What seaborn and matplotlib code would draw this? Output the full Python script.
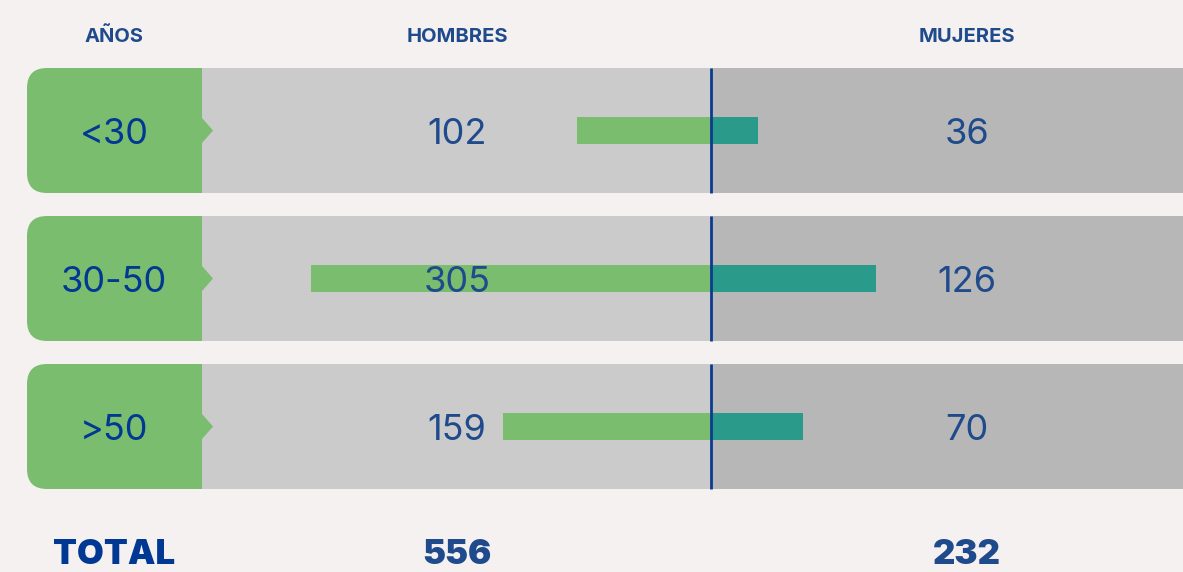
import matplotlib
matplotlib.use("Agg")
import matplotlib.pyplot as plt
import matplotlib.transforms as mtransforms
from matplotlib.patches import FancyBboxPatch, Rectangle, Polygon
import seaborn as sns
import pandas as pd

ages = ["<30", "30-50", ">50"]
hombres = [102, 305, 159]
mujeres = [36, 126, 70]
total_hombres = 556
total_mujeres = 232
headers = ["AÑOS", "HOMBRES", "MUJERES"]

BG = "#f5f1f0"
GREEN = "#7abd6f"
TEAL = "#2a9a8a"
LIGHT = "#cbcbcb"
DARK = "#b7b7b7"
NAVY = "#1f4a8c"
BLUE = "#003893"

sns.set_theme(style="white")
plt.rcParams["font.family"] = ["Inter", "DejaVu Sans"]

W, H = 1183, 572
fig = plt.figure(figsize=(W / 100, H / 100), dpi=100, facecolor=BG)

# background layer in pixel coordinates
bg = fig.add_axes([0, 0, 1, 1], zorder=0)
bg.set_xlim(0, W)
bg.set_ylim(H, 0)
bg.axis("off")
bg.set_facecolor(BG)

# value layer: x = people, y = row index
ax = fig.add_axes([0, 0, 1, 1], zorder=1)
ax.patch.set_visible(False)

x0, scale = 711, 1.31          # pixel of zero, pixels per person
y0, pitch = 130.5, 148          # pixel of first row centre, row pitch
half = 62.5                      # half band height

df = pd.DataFrame({"edad": ages, "hombres": [-v for v in hombres], "mujeres": mujeres})
sns.barplot(data=df, x="hombres", y="edad", orient="h", color=GREEN,
            width=27 / pitch, saturation=1, linewidth=0, ax=ax, zorder=3)
sns.barplot(data=df, x="mujeres", y="edad", orient="h", color=TEAL,
            width=27 / pitch, saturation=1, linewidth=0, ax=ax, zorder=3)
ax.set_xlim(-x0 / scale, (W - x0) / scale)
ax.set_ylim((H - y0) / pitch, -y0 / pitch)
ax.axis("off")

for i, age in enumerate(ages):
    cy = y0 + pitch * i
    top = cy - half
    bg.add_patch(FancyBboxPatch((27, top), 200, 2 * half,
                                boxstyle="round,pad=0,rounding_size=20",
                                fc=GREEN, ec="none", zorder=1))
    bg.add_patch(Rectangle((202, top), x0 - 202, 2 * half, fc=LIGHT, ec="none", zorder=2))
    bg.add_patch(Rectangle((x0, top), W - x0, 2 * half, fc=DARK, ec="none", zorder=2))
    bg.add_patch(Polygon([(202, cy - 12.5), (213, cy), (202, cy + 12.5)],
                         closed=True, fc=GREEN, ec="none", zorder=3))
    bg.text(114, cy + 1, age, ha="center", va="center_baseline", fontsize=26,
            color=BLUE, zorder=4)
    ax.vlines(0, i - half / pitch, i + half / pitch, color="#0b3b8f", lw=2, zorder=5)

trans = mtransforms.blended_transform_factory(bg.transData, ax.transData)
for i in range(len(ages)):
    ax.text(457, i, str(hombres[i]), transform=trans, ha="center",
            va="center_baseline", fontsize=26, color=NAVY, zorder=6)
    ax.text(967, i, str(mujeres[i]), transform=trans, ha="center",
            va="center_baseline", fontsize=26, color=NAVY, zorder=6)

for xp, label in zip([114, 457, 967], headers):
    bg.text(xp, 37, label, ha="center", va="center", fontsize=14.5,
            fontweight="bold", color=NAVY)

bg.text(114, 571, "TOTAL", ha="center", va="bottom", fontsize=25,
        fontweight="black", color=BLUE)
bg.text(457, 571, str(total_hombres), ha="center", va="bottom", fontsize=25,
        fontweight="black", color=NAVY)
bg.text(967, 571, str(total_mujeres), ha="center", va="bottom", fontsize=25,
        fontweight="black", color=NAVY)

fig.savefig("out.png", dpi=100, facecolor=BG)
